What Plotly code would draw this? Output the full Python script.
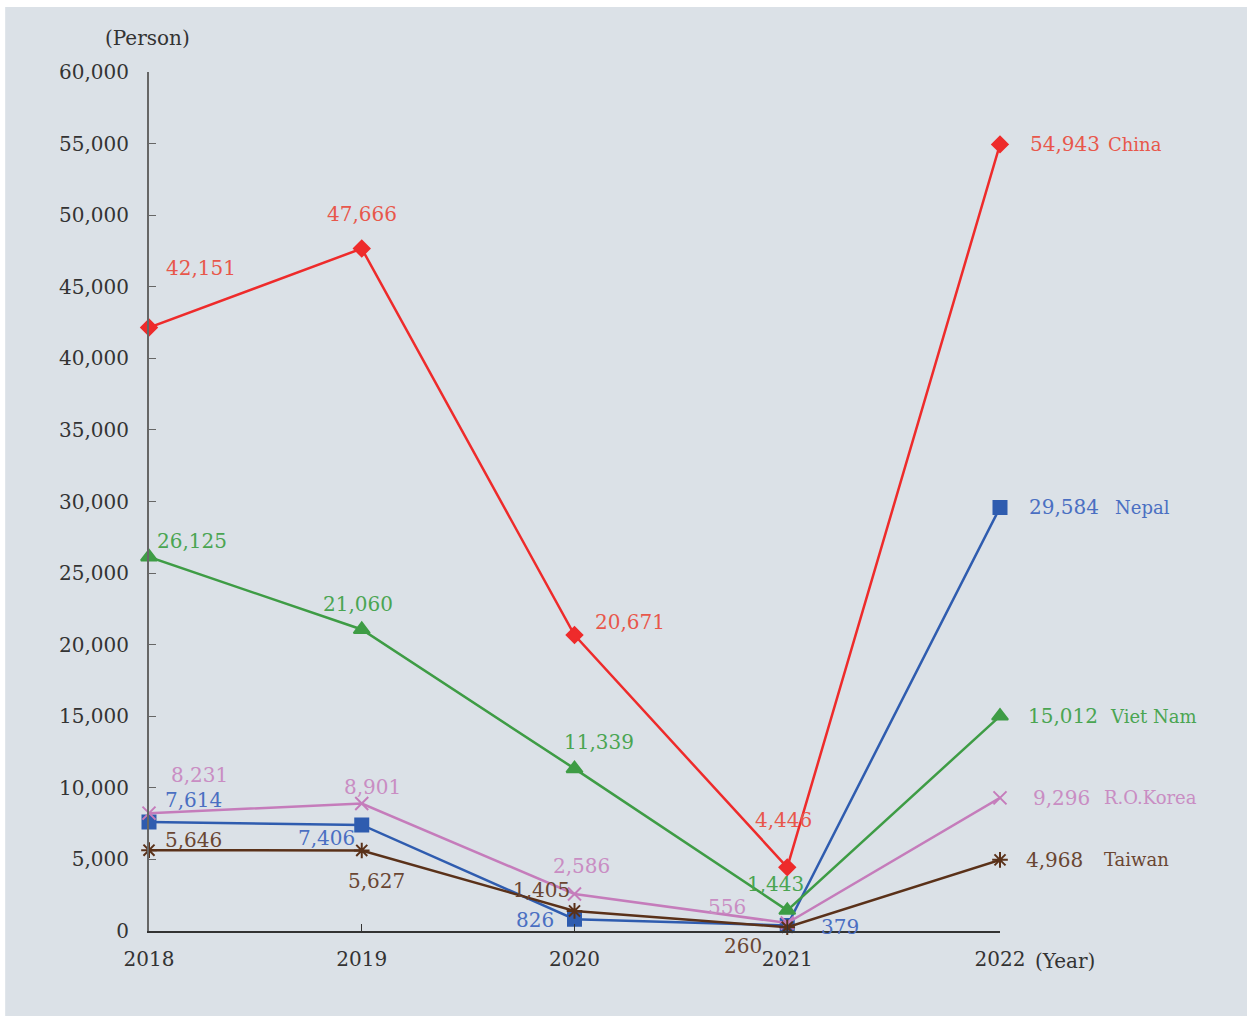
import plotly.graph_objects as go

# Foreign residents by nationality, 2018-2022
years = [2018, 2019, 2020, 2021, 2022]
year_labels = ["2018", "2019", "2020", "2021", "2022"]

china = [42151, 47666, 20671, 4446, 54943]
nepal = [7614, 7406, 826, 379, 29584]
viet_nam = [26125, 21060, 11339, 1443, 15012]
ro_korea = [8231, 8901, 2586, 556, 9296]
taiwan = [5646, 5627, 1405, 260, 4968]

y_ticks = list(range(0, 60001, 5000))

FONT = "DejaVu Serif"
BG = "#dbe1e7"

# name, values, line colour, label colour, marker symbol, marker size,
# per-point label offsets (dx, dy) in pixels, final-label offsets (value, name)
series = [
    ("Nepal", nepal, "#2f5caf", "#4a6fc2", "square", 13,
     [(44, 22), (-35, -13), (-40, -1), (53, -1)], (27, 113)),
    ("Viet Nam", viet_nam, "#3e9c45", "#4aa552", "triangle-up", 14,
     [(43, 16), (-4, 25), (24, 27), (-12, 26)], (26, 108)),
    ("R.O.Korea", ro_korea, "#c57cbb", "#c98dc3", "x-thin-open", 13,
     [(50, 38), (11, 17), (7, 28), (-60, 16)], (31, 102)),
    ("Taiwan", taiwan, "#5a3119", "#6a4632", "asterisk-open", 13,
     [(44, 10), (15, -31), (-33, 21), (-44, -19)], (24, 102)),
    ("China", china, "#ee2b2b", "#e8574b", "diamond", 12,
     [(52, 60), (0, 35), (55, 13), (-4, 47)], (28, 106)),
]

fig = go.Figure()
annotations = []

for name, vals, lc, tc, sym, msize, offs, (vx, nx) in series:
    fig.add_trace(go.Scatter(
        x=years, y=vals, mode="lines+markers", name=name,
        line=dict(color=lc, width=2.5),
        marker=dict(symbol=sym, size=msize, color=lc,
                    line=dict(color=lc, width=2)),
        cliponaxis=False, showlegend=False,
    ))
    for yr, v, (dx, dy) in zip(years[:4], vals[:4], offs):
        annotations.append(dict(
            x=yr, y=v, xref="x", yref="y", text=f"{v:,}", showarrow=False,
            xshift=dx, yshift=dy, xanchor="center", yanchor="middle",
            font=dict(family=FONT, size=20, color=tc),
        ))
    annotations.append(dict(
        x=years[4], y=vals[4], xref="x", yref="y", text=f"{vals[4]:,}",
        showarrow=False, xshift=vx, xanchor="left", yanchor="middle",
        font=dict(family=FONT, size=20, color=tc),
    ))
    annotations.append(dict(
        x=years[4], y=vals[4], xref="x", yref="y", text=name,
        showarrow=False, xshift=nx, xanchor="left", yanchor="middle",
        font=dict(family=FONT, size=18, color=tc),
    ))

# unit captions
annotations.append(dict(
    x=0, y=1, xref="paper", yref="paper", text="(Person)", showarrow=False,
    xanchor="center", yanchor="bottom", xshift=-2, yshift=20,
    font=dict(family=FONT, size=20, color="#333333"),
))
annotations.append(dict(
    x=1, y=0, xref="paper", yref="paper", text="(Year)", showarrow=False,
    xanchor="left", yanchor="top", xshift=33, yshift=-16,
    font=dict(family=FONT, size=20, color="#333333"),
))

fig.add_shape(type="rect", xref="paper", yref="paper",
              x0=-0.169, x1=1.3, y0=-0.1, y1=1.0757,
              fillcolor=BG, line=dict(width=0), layer="below")

fig.update_layout(
    width=1247, height=1016,
    margin=dict(l=149, r=247, t=72, b=85),
    paper_bgcolor="white", plot_bgcolor=BG,
    annotations=annotations,
    font=dict(family=FONT, size=20, color="#333333"),
)
fig.update_xaxes(
    range=[2018, 2022], tickvals=years, ticktext=year_labels,
    showgrid=False, zeroline=False, showline=True, linecolor="#333333",
    linewidth=1.5, ticks="inside", ticklen=7, tickcolor="#333333",
    ticklabelstandoff=9,
    tickfont=dict(family=FONT, size=20, color="#333333"),
)
fig.update_yaxes(
    range=[0, 60000], tickvals=y_ticks, tickformat=",",
    showgrid=False, zeroline=False, showline=True, linecolor="#666666",
    linewidth=2, ticks="inside", ticklen=7, tickcolor="#666666",
    ticklabelstandoff=14,
    tickfont=dict(family=FONT, size=20, color="#333333"),
)

fig.write_html("out.html")
